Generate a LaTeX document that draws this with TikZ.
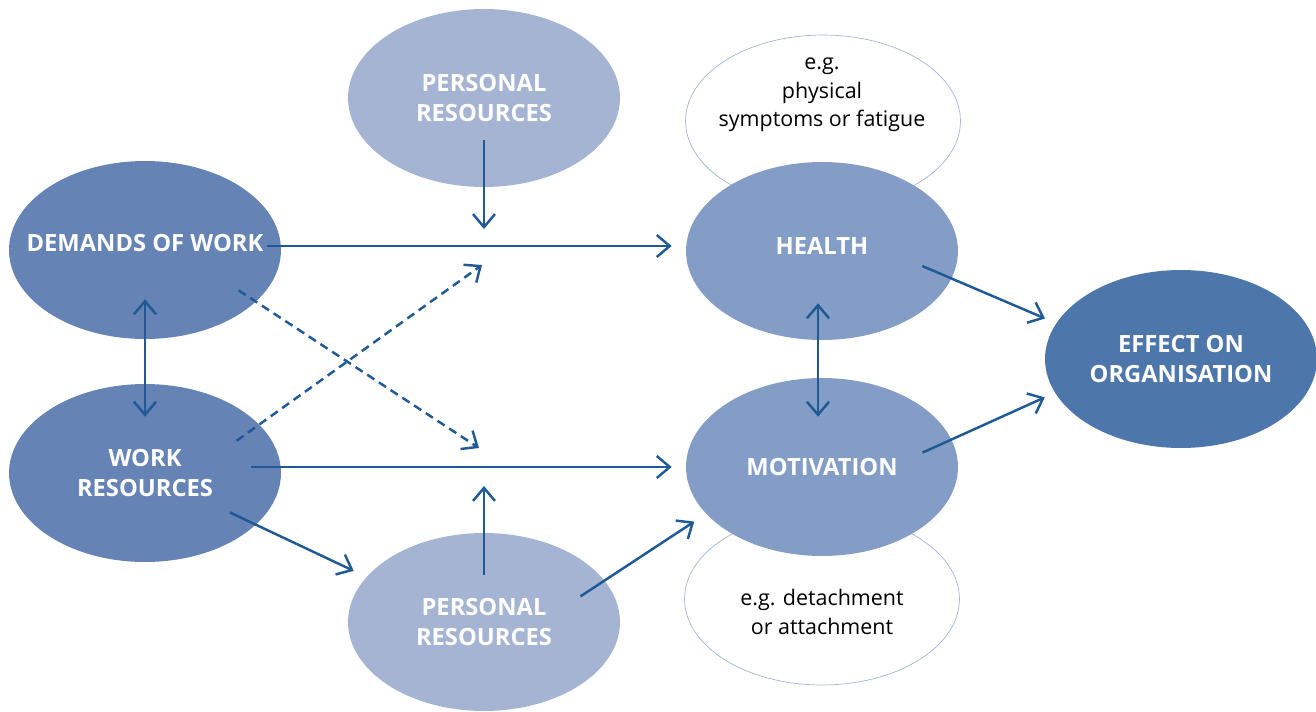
\documentclass[tikz,border=0pt]{standalone}
\usepackage{fontspec}
\setmainfont{Open Sans}
\usetikzlibrary{shapes.geometric,arrows.meta}
\definecolor{workblue}{RGB}{101,131,181}
\definecolor{persblue}{RGB}{165,180,211}
\definecolor{outblue}{RGB}{132,157,198}
\definecolor{effblue}{RGB}{77,118,170}
\definecolor{arrowblue}{RGB}{31,90,150}
\definecolor{noteline}{RGB}{165,180,215}
\begin{document}
\begin{tikzpicture}[x=0.02cm,y=-0.02cm]
        \tikzstyle{oval} = [ellipse, minimum width=5.44cm, minimum height=3.56cm, inner xsep=-1cm, inner ysep=0pt, text=white, align=center, font=\bfseries\fontsize{13.5}{17.6}\selectfont]
        \tikzstyle{note} = [ellipse, draw=noteline, fill=white, minimum width=5.5cm, minimum height=3.44cm, inner sep=0pt]
        \tikzstyle{notetext} = [align=center, font=\fontsize{12.2}{16.2}\selectfont]
        \tikzstyle{arrow} = [line width=1.4pt, draw=arrowblue, -{Straight Barb[length=0.26cm,width=0.44cm]}]
        \tikzstyle{dblarrow} = [arrow, {Straight Barb[length=0.26cm,width=0.44cm]}-{Straight Barb[length=0.26cm,width=0.44cm]}]
        \tikzstyle{dasharrow} = [arrow, dash pattern=on 0.17cm off 0.11cm]

                \useasboundingbox (0,0) rectangle (1316,711);

                % notes behind the outcomes
                \node (healthnote) [note] at (823,121) {};
                \node (motivnote) [note] at (822,599) {};
                \node (healthnotetext) [notetext] at (822,95) {e.g.\\physical\\symptoms or fatigue};
                \node (motivnotetext) [notetext] at (822,612) {e.g. detachment\\or attachment};

                \node (demands) [oval, fill=workblue, text depth=8pt] at (145,250) {DEMANDS OF WORK};
                \node (work) [oval, fill=workblue] at (145,473) {WORK\\RESOURCES};
                \node (perstop) [oval, fill=persblue] at (484,98) {PERSONAL\\RESOURCES};
                \node (persbot) [oval, fill=persblue] at (484,622) {PERSONAL\\RESOURCES};
                \node (health) [oval, fill=outblue, text depth=5.5pt] at (822,251) {HEALTH};
                \node (motivation) [oval, fill=outblue] at (822,467) {MOTIVATION};
                \node (effect) [oval, fill=effblue] at (1181,359) {EFFECT ON\\ORGANISATION};

                \coordinate (modtop) at (484,229);
                \coordinate (modbot) at (484,486);
                \coordinate (dashtop) at (482,265);
                \coordinate (dashbot) at (479,448);

                \draw[arrow, shorten <=-0.28cm, shorten >=0.28cm] ([yshift=0.1cm]health.west -| demands.east) -- ([yshift=0.1cm]health.west);
                \draw[arrow, shorten <=-0.6cm, shorten >=0.28cm] (motivation.west -| work.east) -- (motivation.west);
                \draw[arrow, shorten <=-0.94cm] (perstop.south) -- (modtop);
                \draw[arrow, shorten <=-0.84cm] (persbot.north) -- (modbot);
                \draw[dasharrow, shorten <=-0.56cm] (work.23) -- (dashtop);
                \draw[dasharrow, shorten <=-0.42cm] (demands.-25) -- (dashbot);
                \draw[dblarrow, shorten <=-0.8cm, shorten >=-0.66cm] (demands.south) -- (work.north);
                \draw[dblarrow, shorten <=-0.74cm, shorten >=-0.78cm] ([xshift=-0.08cm]health.south) -- ([xshift=-0.08cm]motivation.north);
                \draw[arrow, shorten <=-0.58cm, shorten >=0.28cm] (work.-25) -- (persbot.159);
                \draw[arrow, shorten <=-0.58cm, shorten >=0.28cm] (persbot.19) -- (motivation.202);
                \draw[arrow, shorten <=-0.64cm, shorten >=0.24cm] (health.-12) -- (effect.164);
                \draw[arrow, shorten <=-0.64cm, shorten >=0.22cm] (motivation.12) -- (effect.195);
    \end{tikzpicture}
\end{document}
